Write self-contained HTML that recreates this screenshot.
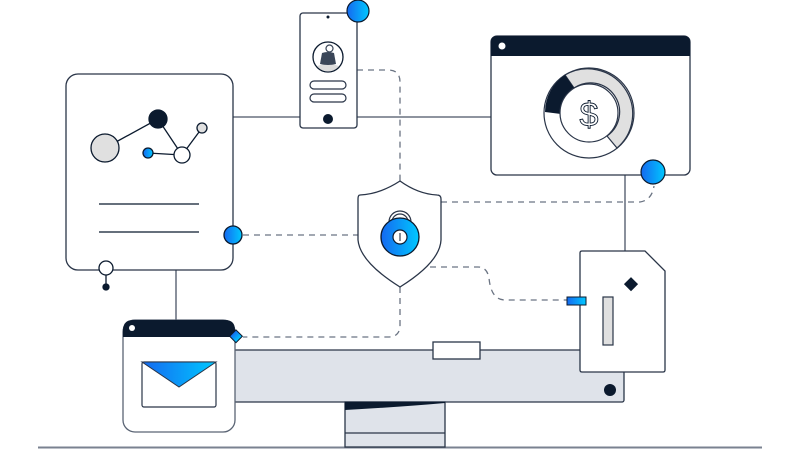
<!DOCTYPE html>
<html><head><style>html,body{margin:0;padding:0;background:#fff}svg{display:block}</style></head><body>
<svg width="800" height="450" viewBox="0 0 800 450" xmlns="http://www.w3.org/2000/svg">
<defs>
<linearGradient id="g" x1="0" y1="0" x2="1" y2="0"><stop offset="0" stop-color="#1569f0"/><stop offset="1" stop-color="#00c8ff"/></linearGradient>
<clipPath id="av"><circle cx="328" cy="57" r="14.3"/></clipPath>
</defs>
<g fill="none" stroke="#0b1a2e" stroke-width="1.3">
<line x1="233" y1="117" x2="300" y2="117" stroke="#4a5566"/>
<line x1="357" y1="117" x2="491" y2="117" stroke="#4a5566"/>
<line x1="176" y1="270" x2="176" y2="321" stroke="#4a5566"/>
<line x1="625" y1="175" x2="625" y2="251" stroke="#4a5566"/>
<g stroke="#6b7483" stroke-dasharray="6 5">
<path d="M357 70 H388 Q400 70 400 82 V181"/>
<path d="M243 235 H358"/>
<path d="M441 202 H640 Q652 200 654 186"/>
<path d="M430 267 H478 Q487 267 489 278 Q491 300 505 300 H567"/>
<path d="M400 287 V325 Q400 337 388 337 H243"/>
</g>
</g>
<line x1="38" y1="447.5" x2="762" y2="447.5" stroke="#7a8290" stroke-width="2"/>
<rect x="230" y="350" width="394" height="52" rx="2" fill="#dfe3ea" stroke="#2a3548" stroke-width="1.3"/>
<rect x="345" y="402" width="100" height="45" fill="#dfe3ea" stroke="#2a3548" stroke-width="1.3"/>
<line x1="345" y1="433" x2="445" y2="433" stroke="#2a3548" stroke-width="1.2"/>
<path d="M345 402 H445 V403 Q400 407 345 410 Z" fill="#0b1a2e"/>
<rect x="433" y="342" width="47" height="17" fill="#fff" stroke="#2a3548" stroke-width="1.3"/>
<circle cx="610" cy="390" r="6" fill="#0b1a2e"/>
<rect x="66" y="74" width="167" height="196" rx="12" fill="#fff" stroke="#2a3548" stroke-width="1.3"/>
<g stroke="#0b1a2e" stroke-width="1.3">
<line x1="105" y1="148" x2="158" y2="119"/><line x1="158" y1="119" x2="182" y2="155"/><line x1="182" y1="155" x2="202" y2="128"/><line x1="148" y1="153" x2="182" y2="155"/>
<circle cx="105" cy="148" r="14" fill="#e0e0e0"/>
<circle cx="158" cy="119" r="9" fill="#0b1a2e"/>
<circle cx="182" cy="155" r="8" fill="#fff"/>
<circle cx="202" cy="128" r="5" fill="#e0e0e0"/>
<circle cx="148" cy="153" r="5" fill="url(#g)"/>
<line x1="99" y1="204" x2="199" y2="204"/><line x1="99" y1="232" x2="199" y2="232"/>
<line x1="106" y1="275" x2="106" y2="287"/>
<circle cx="106" cy="268" r="7" fill="#fff"/>
<circle cx="106" cy="287" r="3" fill="#0b1a2e"/>
<circle cx="233" cy="235" r="9" fill="url(#g)"/>
</g>
<rect x="300" y="13" width="57" height="115" rx="3" fill="#fff" stroke="#2a3548" stroke-width="1.3"/>
<circle cx="328" cy="17" r="1.5" fill="#0b1a2e"/>
<circle cx="328" cy="57" r="15" fill="#fff" stroke="#0b1a2e" stroke-width="1.3"/>
<g clip-path="url(#av)">
<ellipse cx="328" cy="72" rx="16" ry="8" fill="#ddd"/>
<path d="M322 53 Q328 51 334 53 L336 64 Q328 66 320 64 Z" fill="#3a4658"/>
</g>
<circle cx="329.5" cy="48.5" r="3.5" fill="#fff" stroke="#3a4658" stroke-width="1.2"/>
<rect x="310" y="81" width="36" height="8" rx="4" fill="#fff" stroke="#2a3548" stroke-width="1.2"/>
<rect x="310" y="94" width="36" height="8" rx="4" fill="#fff" stroke="#2a3548" stroke-width="1.2"/>
<circle cx="328" cy="119" r="5" fill="#0b1a2e"/>
<circle cx="358" cy="11" r="11" fill="url(#g)" stroke="#0b1a2e" stroke-width="1.2"/>
<path d="M400 181 Q380 194 360 195 Q358 195 358 199 V240 Q360 262 400 287 Q440 262 441 240 V199 Q441 195 437 195 Q418 194 400 181Z" fill="#fff" stroke="#2a3548" stroke-width="1.3"/>
<path d="M389 232 V222 A11 11 0 0 1 411 222 V232" fill="none" stroke="#2a3548" stroke-width="1.2"/>
<path d="M392 232 V222 A8 8 0 0 1 408 222 V232" fill="none" stroke="#2a3548" stroke-width="1.2"/>
<circle cx="400" cy="237" r="19" fill="url(#g)" stroke="#0b1a2e" stroke-width="1.3"/>
<circle cx="400" cy="237" r="7" fill="#fff" stroke="#0b1a2e" stroke-width="1.2"/>
<line x1="400" y1="233" x2="400" y2="241" stroke="#0b1a2e" stroke-width="1"/>
<rect x="491" y="36" width="199" height="139" rx="6" fill="#fff" stroke="#2a3548" stroke-width="1.3"/>
<path d="M491 56 V42 Q491 36 497 36 H684 Q690 36 690 42 V56 Z" fill="#0b1a2e"/>
<circle cx="502" cy="46" r="3.5" fill="#fff"/>
<circle cx="589" cy="113" r="45" fill="#fff" stroke="#2a3548" stroke-width="1.2"/>
<path d="M565 75 A45 45 0 0 1 617 148 L607 136 A29 29 0 0 0 574 88 Z" fill="#e0e0e0" stroke="#2a3548" stroke-width="1.2"/>
<path d="M545 112 A45 45 0 0 1 565 75 L574 88 A29 29 0 0 0 561 114 Z" fill="#0b1a2e"/>
<circle cx="589" cy="113" r="29" fill="#fff" stroke="#2a3548" stroke-width="1.2"/>
<text x="589" y="126" font-family="Liberation Sans, sans-serif" font-size="34" text-anchor="middle" fill="none" stroke="#0b1a2e" stroke-width="0.9">$</text>
<circle cx="653" cy="172" r="12" fill="url(#g)" stroke="#0b1a2e" stroke-width="1.2"/>
<path d="M582 251 H645 L665 271 V370 Q665 372 663 372 H582 Q580 372 580 370 V253 Q580 251 582 251Z" fill="#fff" stroke="#2a3548" stroke-width="1.3"/>
<rect x="624" y="280" width="10" height="10" transform="rotate(45 631 287)" fill="#0b1a2e"/>
<rect x="603" y="297" width="10" height="48" fill="#e0e0e0" stroke="#2a3548" stroke-width="1.2"/>
<rect x="567" y="297" width="19" height="8" fill="url(#g)" stroke="#0b1a2e" stroke-width="1"/>
<rect x="123" y="320" width="112" height="112" rx="12" fill="#fff" stroke="#5a6474" stroke-width="1.3"/>
<path d="M123 337 V330 Q123 320 133 320 H225 Q235 320 235 330 V337 Z" fill="#0b1a2e"/>
<circle cx="132" cy="328" r="3" fill="#fff"/>
<rect x="142" y="362" width="74" height="45" rx="2" fill="#fff" stroke="#2a3548" stroke-width="1.2"/>
<path d="M142 362 H216 L179 387 Z" fill="url(#g)" stroke="#2a3548" stroke-width="1"/>
<rect x="231" y="332" width="9" height="9" transform="rotate(45 236 337)" fill="url(#g)" stroke="#0b1a2e" stroke-width="1"/>
</svg>
</body></html>
